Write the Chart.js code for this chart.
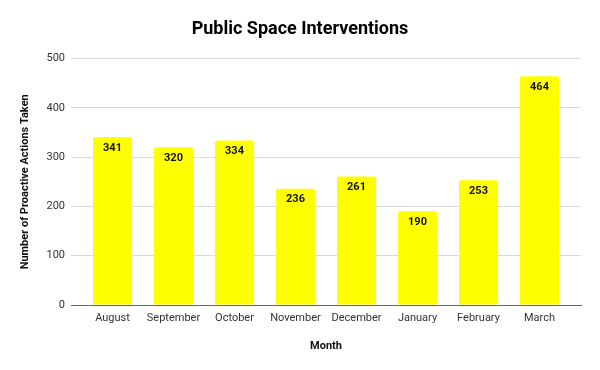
<!DOCTYPE html>
<html><head><meta charset="utf-8">
<script src="https://cdn.jsdelivr.net/npm/chart.js@4"></script>
<style>html,body{margin:0;padding:0;background:#fff}#wrap{width:600px;height:370px}</style>
</head><body><div id="wrap"><canvas id="c" width="600" height="370"></canvas></div>
<script>
const months = ["August","September","October","November","December","January","February","March"];
const actions = [341, 320, 334, 236, 261, 190, 253, 464];
const yTicks = [0, 100, 200, 300, 400, 500];

const labelPlugin = {
  id: 'barLabels',
  afterDatasetsDraw(chart) {
    const ctx = chart.ctx;
    const meta = chart.getDatasetMeta(0);
    ctx.save();
    ctx.font = 'bold 11px Roboto';
    ctx.fillStyle = '#111';
    ctx.textAlign = 'center';
    ctx.textBaseline = 'middle';
    meta.data.forEach((bar, i) => {
      ctx.fillText(String(chart.data.datasets[0].data[i]), bar.x, bar.y + 11);
    });
    ctx.restore();
  }
};

new Chart(document.getElementById('c'), {
  type: 'bar',
  data: { labels: months, datasets: [{ data: actions, backgroundColor: '#ffff00', borderRadius: 2, categoryPercentage: 1, barPercentage: 0.64, yAxisID: 'y' }] },
  options: {
    responsive: false, animation: false, devicePixelRatio: 1,
    layout: { padding: 0 },
    plugins: {
      legend: { display: false }, tooltip: { enabled: false },
      title: { display: true, text: 'Public Space Interventions', color: '#000', font: { family: 'Roboto', size: 18, weight: 'bold' }, padding: { top: 19, bottom: 18 } }
    },
    scales: {
      x: {
        grid: { display: false, drawTicks: false },
        border: { display: true, color: '#666', width: 1 },
        ticks: { color: '#333', font: { family: 'Roboto', size: 11 }, padding: 7, maxRotation: 0 },
        title: { display: true, text: 'Month', color: '#111', font: { family: 'Roboto', size: 11, weight: 'bold' }, padding: { top: 0, bottom: 17 } },
        afterBuildTicks(s) { s._startValue -= 0.18; s._valueRange += 0.36; },
        afterFit(s) { s.height = 65; }
      },
      y: {
        min: 0, max: 500, position: 'left',
        afterBuildTicks(s) { s.ticks = yTicks.map(v => ({ value: v })); },
        grid: { color: '#d9d9d9', drawTicks: false },
        border: { display: false },
        ticks: { color: '#333', font: { family: 'Roboto', size: 11 }, padding: 6 },
        title: { display: true, text: 'Number of Proactive Actions Taken', color: '#111', font: { family: 'Roboto', size: 11, weight: 'bold' }, padding: { top: 19, bottom: 0 } },
        afterFit(s) { s.width = 71; }
      },
      yRight: {
        type: 'linear', position: 'right', display: true,
        grid: { display: false, drawTicks: false },
        border: { display: false },
        ticks: { display: false },
        afterFit(s) { s.width = 19; }
      }
    }
  },
  plugins: [labelPlugin]
});
</script></body></html>
